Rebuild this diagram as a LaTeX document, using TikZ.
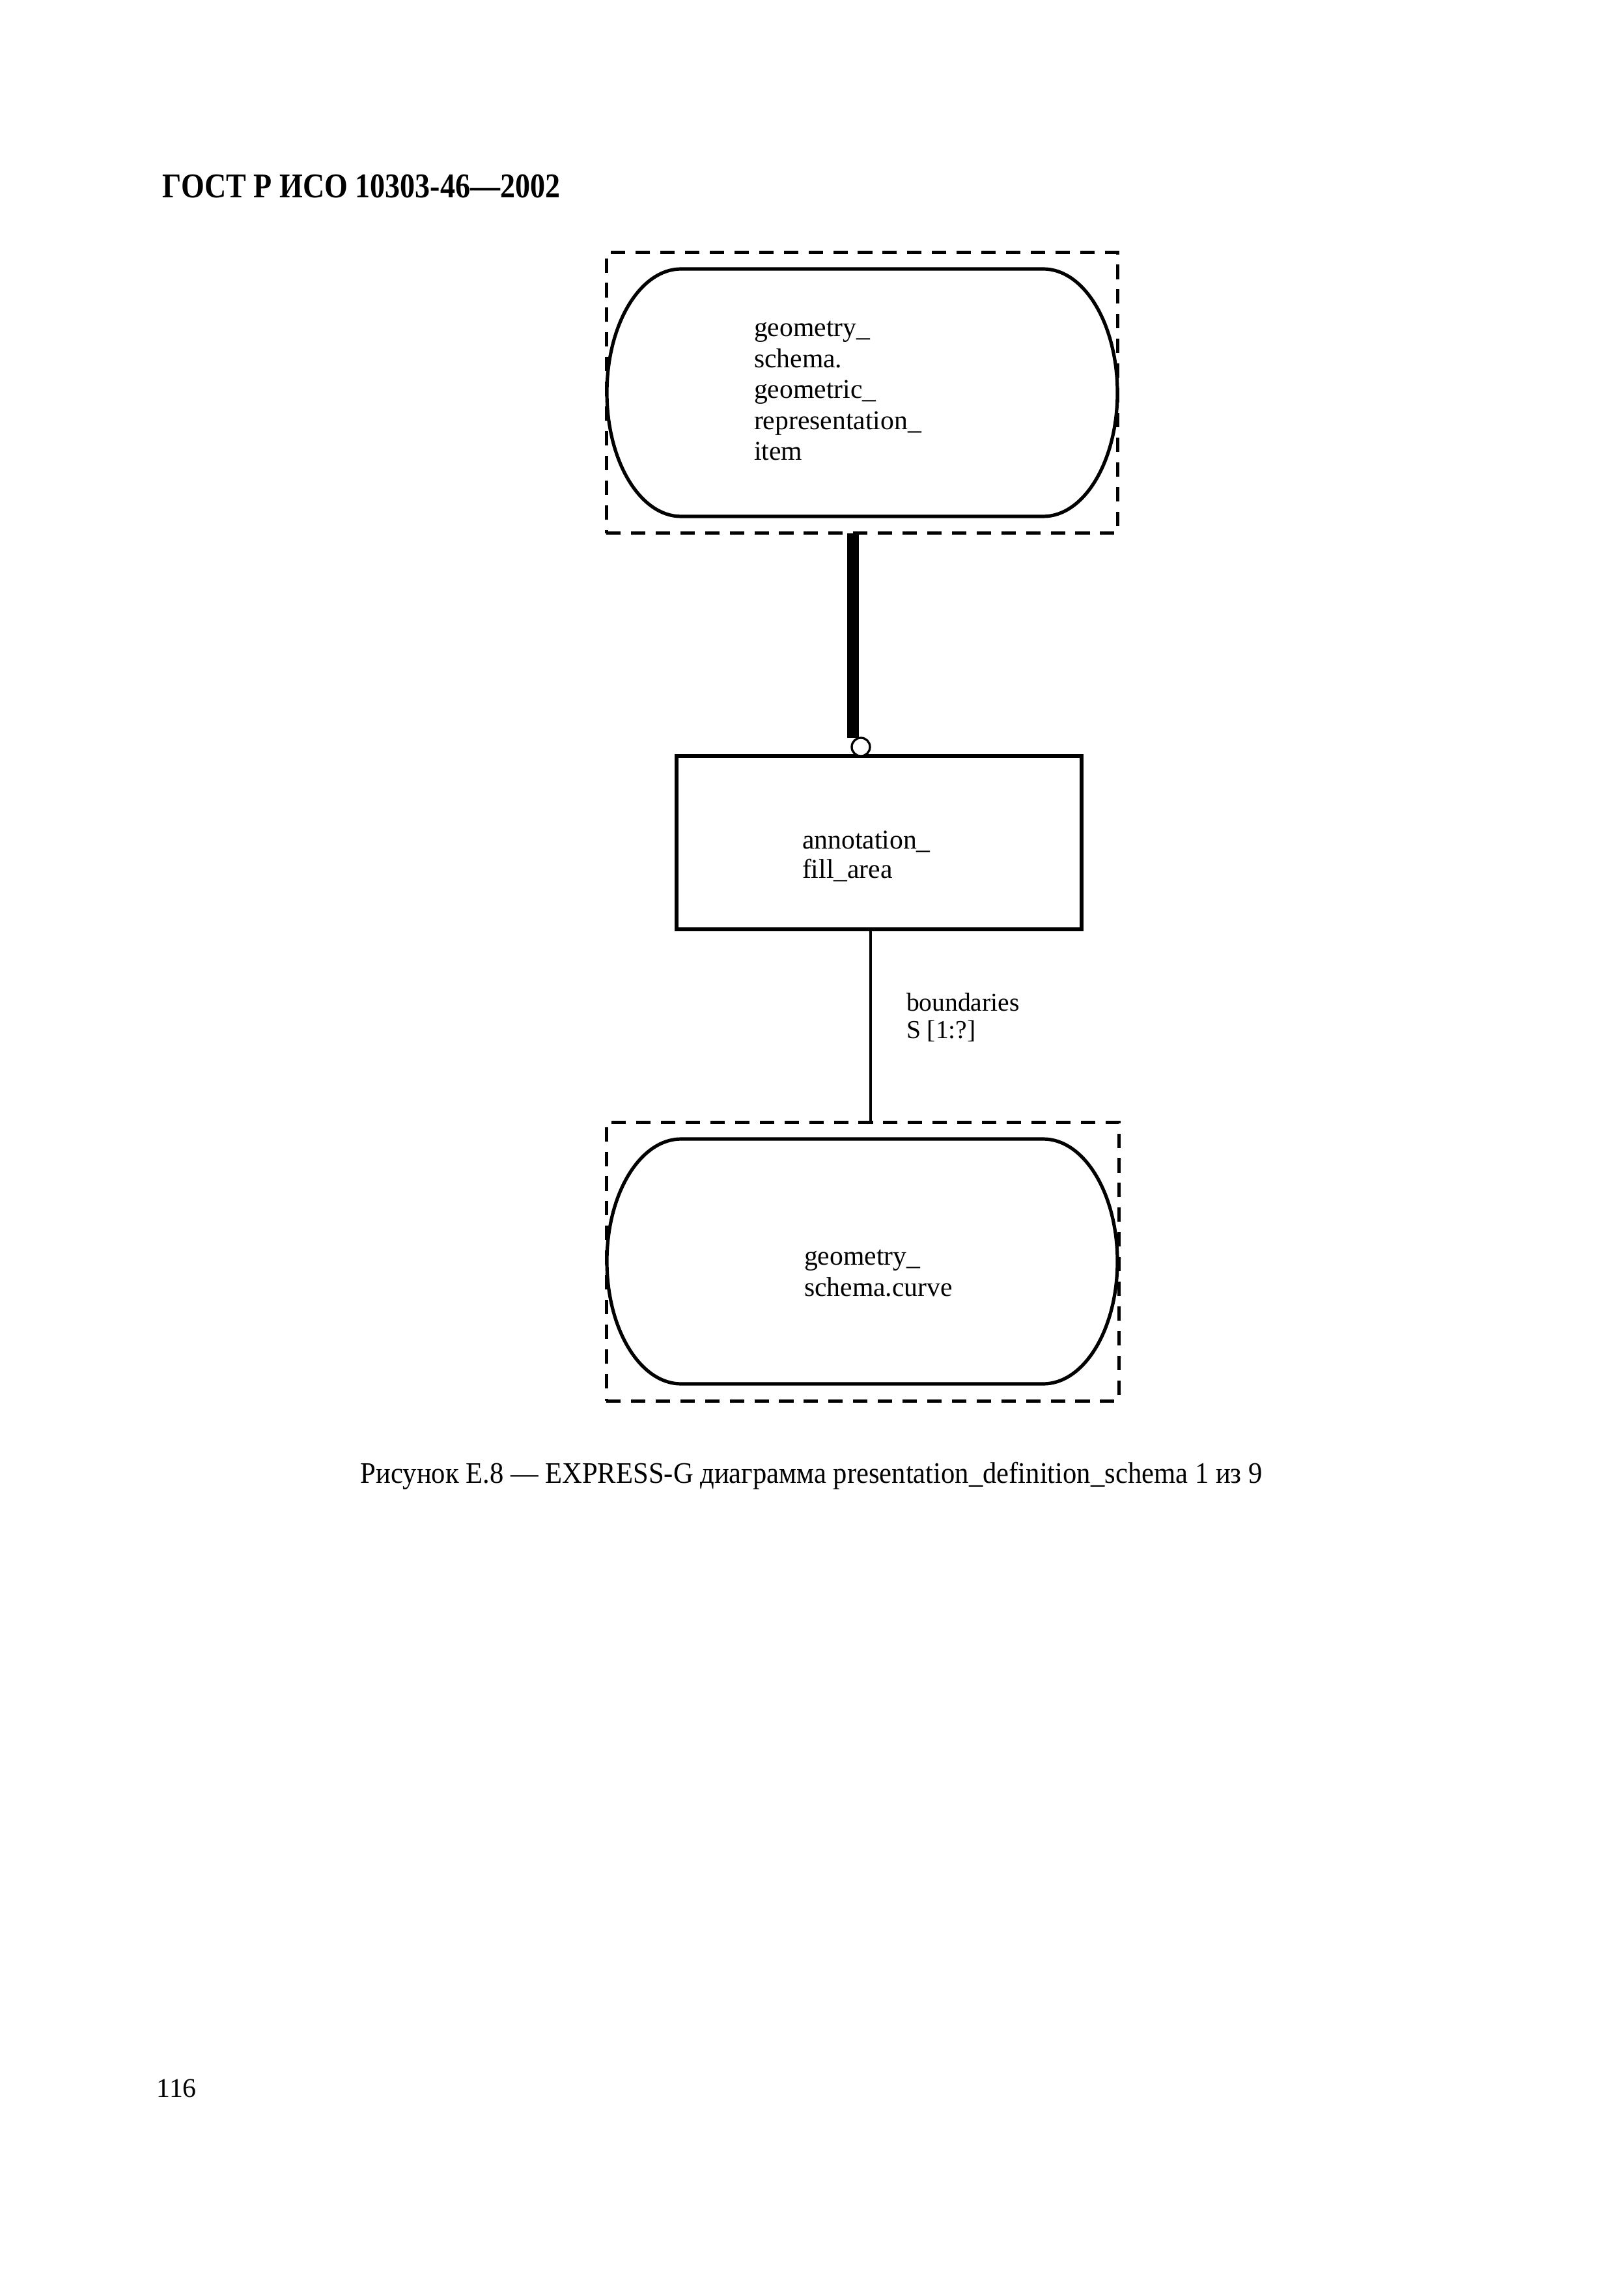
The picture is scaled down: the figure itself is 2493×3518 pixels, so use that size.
\documentclass[tikz,border=0pt]{standalone}
\usepackage{fontspec}
\setmainfont{Liberation Serif}
\usetikzlibrary{calc}
\newcommand\expressoval[3]{% centre x, centre y, vertical radius
  \draw[ovalline] ({#1+278},{#2-#3}) .. controls ({#1+341},{#2-#3}) and ({#1+392},{#2-0.5523*#3}) .. ({#1+392},{#2})
    .. controls ({#1+392},{#2+0.5523*#3}) and ({#1+341},{#2+#3}) .. ({#1+278},{#2+#3})
    -- ({#1-278},{#2+#3})
    .. controls ({#1-341},{#2+#3}) and ({#1-392},{#2+0.5523*#3}) .. ({#1-392},{#2})
    .. controls ({#1-392},{#2-0.5523*#3}) and ({#1-341},{#2-#3}) .. ({#1-278},{#2-#3}) -- cycle;}
\begin{document}
\begin{tikzpicture}[x=0.24pt,y=-0.24pt,
  dashbox/.style={draw, line width=1.2pt, dash pattern=on 5.3pt off 3.8pt, inner sep=0pt, outer sep=0pt},
  ovalline/.style={line width=1.25pt},
  entitybox/.style={draw, line width=1.25pt, inner sep=0pt, outer sep=0pt, minimum width=149.28pt, minimum height=63.84pt},
  txt/.style={anchor=base west, inner sep=0pt, outer sep=0pt, font=\fontsize{10}{12}\selectfont},
  lbl/.style={anchor=base west, inner sep=0pt, outer sep=0pt, font=\fontsize{9.5}{11}\selectfont},
  thickrel/.style={line width=4.1pt},
  rel/.style={line width=1.1pt},
  ringend/.style={circle, draw, line width=0.8pt, minimum size=6.72pt, inner sep=0pt, outer sep=0pt, fill=white}]
\useasboundingbox[fill=white] (0,0) rectangle (2493,3518);

% header and page number
\node[anchor=base west, inner sep=0pt, font=\fontsize{12.8}{15}\selectfont\bfseries] (hdr) at (249,304) {\scalebox{0.863}[1]{ГОСТ Р ИСО 10303-46—2002}};
\node[anchor=base west, inner sep=0pt, font=\fontsize{10}{12}\selectfont] (pgno) at (240,3220) {116};

% top schema reference
\node[dashbox, minimum width=188.4pt, minimum height=103.44pt] (gbox) at (1323.5,603.5) {};
\expressoval{1324}{603}{190}
\node[txt] (g1) at (1158,517) {geometry\_};
\node[txt] (g2) at (1158,564.5) {schema.};
\node[txt] (g3) at (1158,612) {geometric\_};
\node[txt] (g4) at (1158,659.5) {representation\_};
\node[txt] (g5) at (1158,707) {item};

% entity
\node[entitybox] (afa) at (1350,1294) {};
\node[txt] (a1) at (1232,1303) {annotation\_};
\node[txt] (a2) at (1232,1348) {fill\_area};

% bottom schema reference
\node[dashbox, minimum width=188.88pt, minimum height=102.72pt] (cbox) at (1324.5,1937) {};
\expressoval{1324}{1937}{188}
\node[txt] (c1) at (1235,1942) {geometry\_};
\node[txt] (c2) at (1235,1990) {schema.curve};

% subtype relation
\node[ringend] (ring) at (1322,1147) {};
\draw[thickrel] ([xshift=-3.24pt]gbox.south) -- ([xshift=-3.24pt]gbox.south |- ring.north);

% attribute relation
\draw[rel] ([xshift=-3.12pt]afa.south) -- ([xshift=-3.12pt]afa.south |- cbox.north);
\node[lbl] (b1) at (1392,1552) {boundaries};
\node[lbl] (b2) at (1392,1594) {S [1:?]};

% caption
\node[anchor=base west, inner sep=0pt, font=\fontsize{11}{13}\selectfont] (cap) at (553,2277) {\scalebox{0.93}[1]{Рисунок Е.8 — EXPRESS-G диаграмма presentation\_definition\_schema 1 из 9}};
\end{tikzpicture}
\end{document}
